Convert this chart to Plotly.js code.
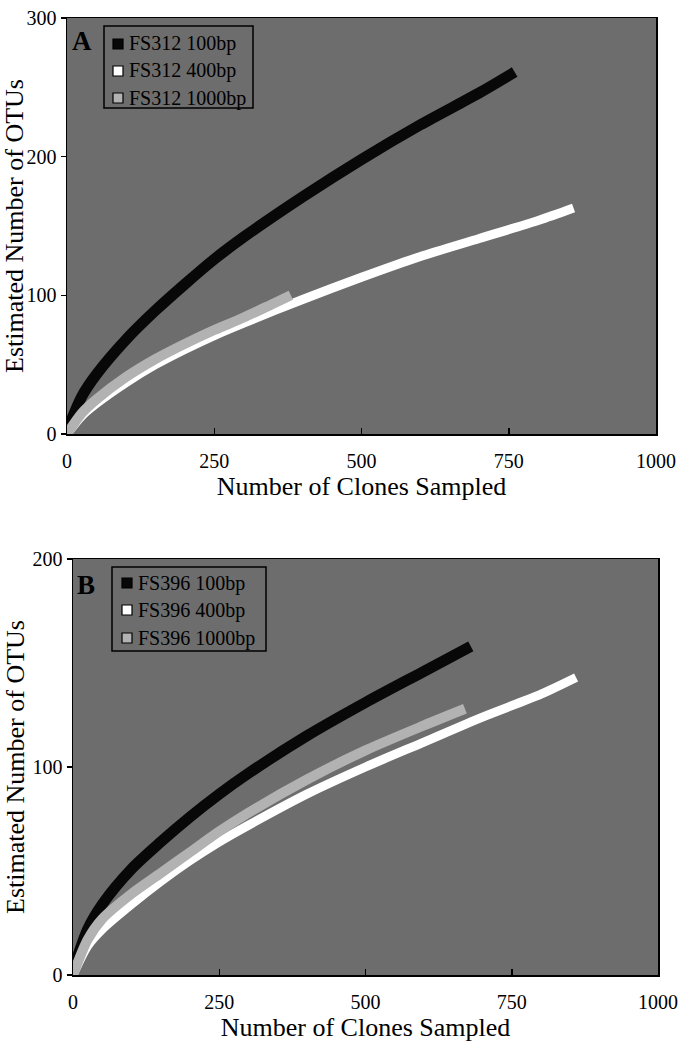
<!DOCTYPE html>
<html>
<head>
<meta charset="utf-8">
<script src="https://cdn.plot.ly/plotly-3.0.1.min.js"></script>
<style>html,body{margin:0;padding:0;background:#fff;}#chart{width:692px;height:1050px;}</style>
</head>
<body>
<div id="chart"></div>
<script>
// ---- Panel A (FS312) ----
var xA100 = [0, 25, 50, 100, 150, 200, 250, 300, 400, 500, 600, 700, 760];
var yA100 = [2, 27, 43, 68, 89, 108, 126, 142, 171, 198, 223, 246, 261];
var xA400 = [0, 25, 50, 100, 150, 200, 250, 300, 400, 500, 600, 700, 800, 860];
var yA400 = [0, 13, 22, 37, 50, 61, 71, 80, 97, 113, 128, 141, 154, 163];
var xA1000 = [0, 25, 50, 100, 150, 200, 250, 300, 350, 380];
var yA1000 = [0, 15, 25, 41, 54, 65, 75, 84, 94, 100];

// ---- Panel B (FS396) ----
var xB100 = [0, 25, 50, 100, 150, 200, 250, 300, 400, 500, 600, 680];
var yB100 = [2, 22, 34, 51, 64, 76, 87, 97, 115, 131, 146, 158];
var xB400 = [0, 25, 50, 100, 150, 200, 250, 300, 400, 500, 600, 700, 800, 860];
var yB400 = [0, 14, 22, 34, 45, 55, 64, 72, 87, 100, 112, 124, 135, 143];
var xB1000 = [0, 25, 50, 100, 150, 200, 250, 300, 400, 500, 600, 670];
var yB1000 = [0, 17, 27, 39, 49, 59, 69, 78, 94, 108, 120, 128];

var legendA = ['FS312 100bp', 'FS312 400bp', 'FS312 1000bp'];
var legendB = ['FS396 100bp', 'FS396 400bp', 'FS396 1000bp'];
var panelLetters = ['A', 'B'];
var xTicks = [0, 250, 500, 750, 1000];
var yTicksA = [0, 100, 200, 300];
var yTicksB = [0, 100, 200];
var xTitle = 'Number of Clones Sampled';
var yTitle = 'Estimated Number of OTUs';

var colors = ['#080808', '#ffffff', '#b2b2b2'];
var widths = [11, 9, 10];
var FONT = '"Liberation Serif", "Times New Roman", serif';

function mk(x, y, i, xa, ya, name) {
  return {x: x, y: y, type: 'scatter', mode: 'lines', name: name,
    xaxis: xa, yaxis: ya, showlegend: false, hoverinfo: 'skip',
    line: {color: colors[i], width: widths[i], shape: 'spline', smoothing: 0.8}};
}

var data = [
  mk(xA100, yA100, 0, 'x', 'y', legendA[0]),
  mk(xA400, yA400, 1, 'x', 'y', legendA[1]),
  mk(xA1000, yA1000, 2, 'x', 'y', legendA[2]),
  mk(xB100, yB100, 0, 'x2', 'y2', legendB[0]),
  mk(xB400, yB400, 1, 'x2', 'y2', legendB[1]),
  mk(xB1000, yB1000, 2, 'x2', 'y2', legendB[2])
];

var W = 692, H = 1050;
function px(v) { return v / W; }
function py(v) { return 1 - v / H; }

function xaxisDef(d0, d1, anchor) {
  return {domain: [px(d0), px(d1)], range: [0, 1000], anchor: anchor,
    tickvals: xTicks, ticktext: xTicks.map(String), ticks: 'inside', ticklen: 6, tickwidth: 1.5,
    tickcolor: '#000', showline: true, mirror: true, linecolor: '#000', linewidth: 1.5,
    showgrid: false, zeroline: false, ticklabelstandoff: 8,
    tickfont: {family: FONT, size: 20, color: '#000'},
    title: {text: xTitle, font: {family: FONT, size: 26, color: '#000'}, standoff: 6}};
}
function yaxisDef(d0, d1, anchor, rng, tv) {
  return {domain: [py(d1), py(d0)], range: rng, anchor: anchor,
    tickvals: tv, ticktext: tv.map(String), ticks: 'outside', ticklen: 5, tickwidth: 1.5,
    tickcolor: '#000', showline: true, mirror: true, linecolor: '#000', linewidth: 1.5,
    showgrid: false, zeroline: false,
    tickfont: {family: FONT, size: 20, color: '#000'},
    title: {text: yTitle, font: {family: FONT, size: 26, color: '#000'}, standoff: 0}};
}

var shapes = [], annotations = [];
function addLegend(labels, box, markX, textX, rows) {
  shapes.push({type: 'rect', xref: 'paper', yref: 'paper', x0: px(box[0]), x1: px(box[1]),
    y0: py(box[3]), y1: py(box[2]), line: {color: '#000', width: 1.5}, fillcolor: 'rgba(0,0,0,0)'});
  for (var i = 0; i < labels.length; i++) {
    var r = rows[i];
    shapes.push({type: 'rect', xref: 'paper', yref: 'paper',
      x0: px(markX - 5), x1: px(markX + 5), y0: py(r + 5), y1: py(r - 5),
      line: {color: '#000', width: 1.2}, fillcolor: colors[i]});
    annotations.push({xref: 'paper', yref: 'paper', x: px(textX), y: py(r), xanchor: 'left',
      yanchor: 'middle', showarrow: false, text: labels[i],
      font: {family: FONT, size: 20, color: '#000'}});
  }
}
addLegend(legendA, [104, 253, 26, 108], 118, 127, [44, 71, 98]);
addLegend(legendB, [112, 266, 567, 651], 127, 136, [583, 610, 638]);

annotations.push({xref: 'paper', yref: 'paper', x: px(82), y: py(41), xanchor: 'center', yanchor: 'middle',
  showarrow: false, text: '<b>' + panelLetters[0] + '</b>', font: {family: FONT, size: 27, color: '#000'}});
annotations.push({xref: 'paper', yref: 'paper', x: px(86), y: py(585), xanchor: 'center', yanchor: 'middle',
  showarrow: false, text: '<b>' + panelLetters[1] + '</b>', font: {family: FONT, size: 27, color: '#000'}});

var layout = {
  width: W, height: H,
  margin: {l: 0, r: 0, t: 0, b: 0, pad: 0},
  paper_bgcolor: '#ffffff', plot_bgcolor: '#6d6d6d',
  showlegend: false,
  font: {family: FONT, color: '#000'},
  xaxis: xaxisDef(67, 656, 'y'),
  yaxis: yaxisDef(18, 434, 'x', [0, 300], yTicksA),
  xaxis2: xaxisDef(73, 658, 'y2'),
  yaxis2: yaxisDef(559, 975, 'x2', [0, 200], yTicksB),
  shapes: shapes, annotations: annotations
};

Plotly.newPlot('chart', data, layout, {staticPlot: true, displayModeBar: false});
</script>
</body>
</html>
